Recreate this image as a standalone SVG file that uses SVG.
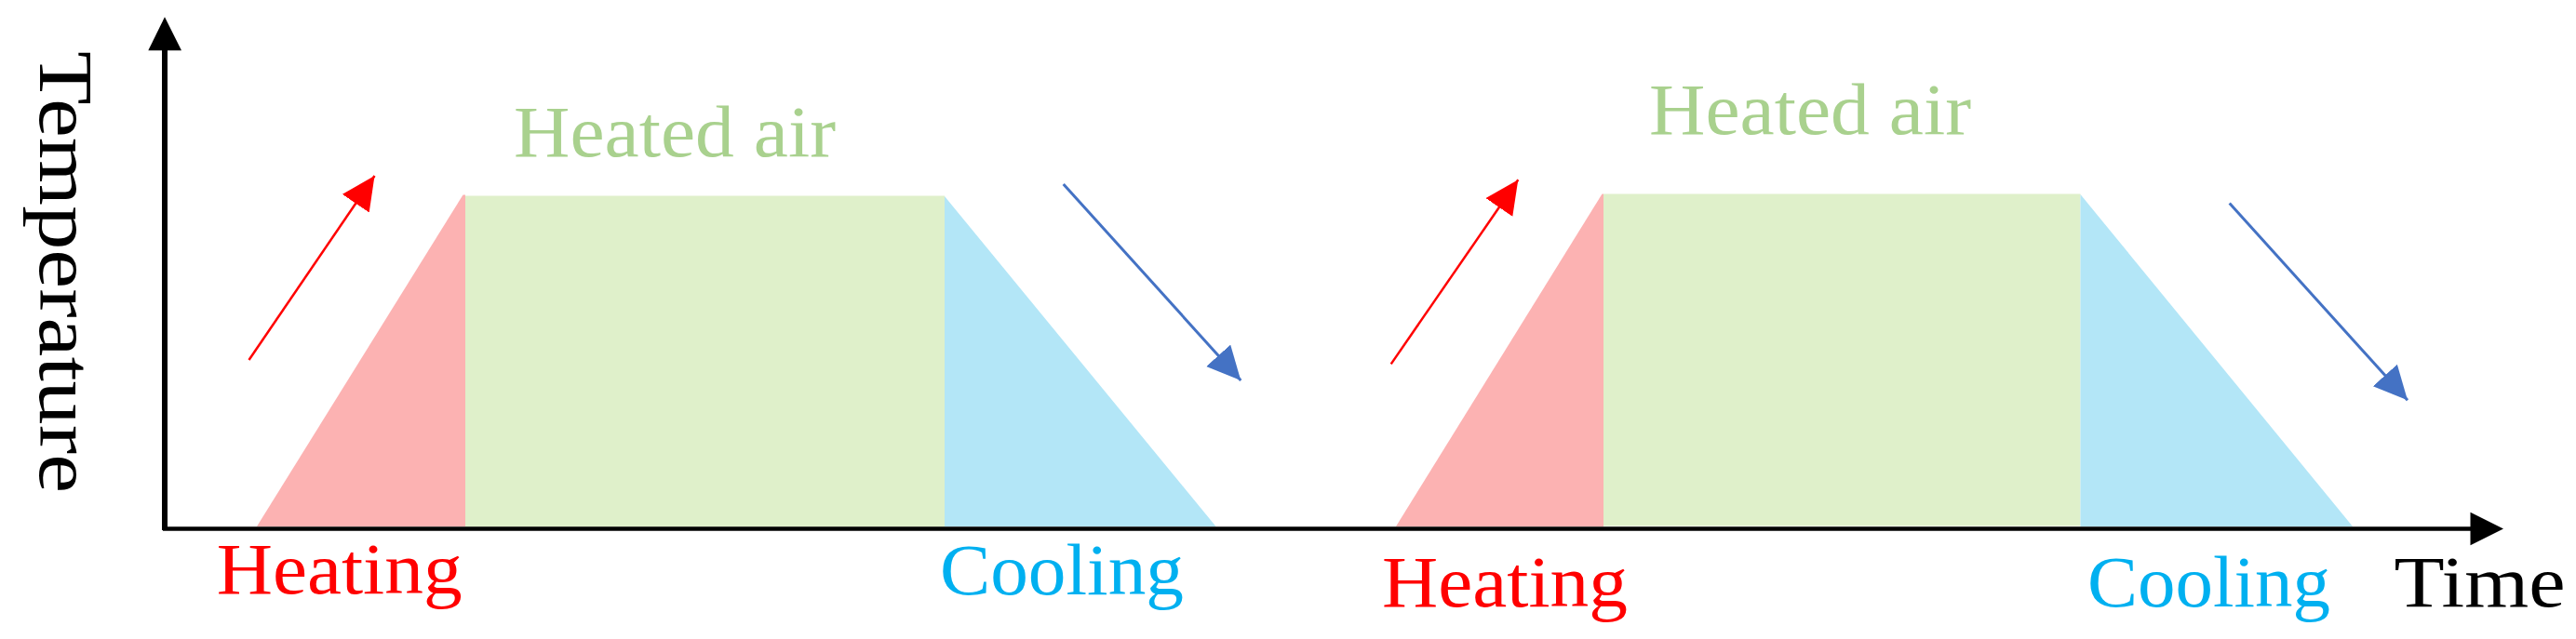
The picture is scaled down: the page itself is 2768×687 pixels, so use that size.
<svg xmlns="http://www.w3.org/2000/svg" width="2768" height="687" viewBox="0 0 2768 687">
<defs>
<style>
text{font-family:"Liberation Serif","Times New Roman",serif;font-size:79px}
.heat{fill:#FF0000}
.cool{fill:#00B0F0}
.air{fill:#A9D18E}
.axis{fill:#000000}
.pink{fill:#FCB2B2}
.green{fill:#DFF0CA}
.blue{fill:#B3E6F7}
.ra{stroke:#FF0000;stroke-width:2.5;fill:none}
.ba{stroke:#4472C4;stroke-width:3;fill:none}
</style>
<marker id="mr" markerUnits="userSpaceOnUse" markerWidth="40" markerHeight="40" refX="36" refY="17.5" orient="auto" viewBox="0 0 40 40">
<path d="M0,0 L36,17.5 L0,35 Z" fill="#FF0000"/>
</marker>
<marker id="mb" markerUnits="userSpaceOnUse" markerWidth="40" markerHeight="40" refX="36" refY="17.5" orient="auto" viewBox="0 0 40 40">
<path d="M0,0 L36,17.5 L0,35 Z" fill="#4472C4"/>
</marker>
</defs>
<rect width="2768" height="687" fill="#FFFFFF"/>

<g id="cycle1">
<polygon class="pink" points="276,566 497.5,209.5 500,209.5 500,566"/>
<rect class="green" x="500" y="210.5" width="515" height="356"/>
<polygon class="blue" points="1015,211 1015,566 1306.5,566"/>
</g>
<g id="cycle2">
<polygon class="pink" points="1500,566 1721.5,208.5 1723,208.5 1723,566"/>
<rect class="green" x="1723" y="208.5" width="512.5" height="357"/>
<polygon class="blue" points="2235.5,209 2235.5,566 2528,566"/>
</g>

<g id="axes">
<line x1="177" y1="570" x2="177" y2="50" stroke="#000" stroke-width="6"/>
<polygon class="axis" points="177,18.3 195,54.3 159.3,54.3"/>
<line x1="175" y1="568.5" x2="2660" y2="568.5" stroke="#000" stroke-width="4.5"/>
<polygon class="axis" points="2690,568.5 2654.5,550.8 2654.5,586.2"/>
</g>

<g id="connectors">
<line class="ra" x1="267.5" y1="387" x2="402.5" y2="189" marker-end="url(#mr)"/>
<line class="ra" x1="1494.7" y1="391.4" x2="1631.3" y2="193.3" marker-end="url(#mr)"/>
<line class="ba" x1="1142.7" y1="197.9" x2="1333.3" y2="409" marker-end="url(#mb)"/>
<line class="ba" x1="2395.7" y1="218.5" x2="2587" y2="430.2" marker-end="url(#mb)"/>
</g>

<g id="labels">
<text id="temperature" transform="translate(43.3,55) rotate(90)" x="0" y="0" style="font-size:82px" textLength="475" lengthAdjust="spacingAndGlyphs">Temperature</text>
<text id="time" x="2572.5" y="652" textLength="184" lengthAdjust="spacingAndGlyphs">Time</text>
<text id="heated-air-1" class="air" x="552" y="168.3" textLength="346" lengthAdjust="spacingAndGlyphs">Heated air</text>
<text id="heated-air-2" class="air" x="1772" y="144.3" textLength="346" lengthAdjust="spacingAndGlyphs">Heated air</text>
<text id="heating-1" class="heat" x="232.7" y="638.3" textLength="264" lengthAdjust="spacingAndGlyphs">Heating</text>
<text id="heating-2" class="heat" x="1485" y="651.7" textLength="264" lengthAdjust="spacingAndGlyphs">Heating</text>
<text id="cooling-1" class="cool" x="1010" y="639" textLength="262" lengthAdjust="spacingAndGlyphs">Cooling</text>
<text id="cooling-2" class="cool" x="2243" y="652" textLength="261" lengthAdjust="spacingAndGlyphs">Cooling</text>
</g>
</svg>
